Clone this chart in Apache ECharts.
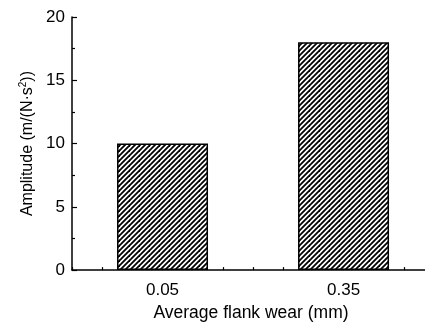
<!DOCTYPE html>
<html><head><meta charset="utf-8">
<script src="https://cdn.jsdelivr.net/npm/echarts@6/dist/echarts.min.js"></script>
<style>html,body{margin:0;padding:0;background:#fff}#c{width:425px;height:327px}</style>
</head><body><div id="c"></div>
<script>
var wear = [0.05, 0.35];
var amplitude = [10, 18];
var xTickLabels = ['0.05', '0.35'];
var yTicks = [0, 5, 10, 15, 20];

function hatch() {
  var s = 10, cv = document.createElement('canvas');
  cv.width = s; cv.height = s;
  var g = cv.getContext('2d');
  g.fillStyle = '#fff'; g.fillRect(0, 0, s, s);
  g.strokeStyle = '#000'; g.lineWidth = 1.8;
  for (var k = -2; k <= 2; k++) {
    var o = k * 5;
    g.beginPath(); g.moveTo(o - 2, s + 2); g.lineTo(o + s + 2, -2); g.stroke();
  }
  return cv;
}

var chart = echarts.init(document.getElementById('c'), null, {renderer: 'canvas'});
var font = 'Liberation Sans, Arial, sans-serif';
chart.setOption({
  animation: false,
  grid: {left: 72, right: 0, top: 17, bottom: 55, containLabel: false},
  xAxis: {
    type: 'value', min: -0.1, max: 0.485, interval: 0.05,
    name: 'Average flank wear (mm)', nameLocation: 'middle', nameGap: 33,
    nameTextStyle: {fontFamily: font, fontSize: 17.5, color: '#000', padding: [0, 0, 0, 5]},
    axisLine: {show: true, onZero: false, lineStyle: {color: '#000', width: 1.5}},
    axisTick: {show: true, inside: true, length: 3, lineStyle: {color: '#000', width: 1.2}},
    axisLabel: {
      fontFamily: font, fontSize: 17, color: '#000', margin: 12, showMaxLabel: false,
      formatter: function (v) {
        for (var i = 0; i < wear.length; i++) if (Math.abs(v - wear[i]) < 1e-6) return xTickLabels[i];
        return '';
      }
    },
    splitLine: {show: false}
  },
  yAxis: {
    type: 'value', min: yTicks[0], max: yTicks[yTicks.length - 1], interval: 5,
    name: '{a|Amplitude (m/(N·s}{s|2}{a|))}', nameLocation: 'middle', nameGap: 35,
    nameTextStyle: {rich: {
      a: {fontFamily: font, fontSize: 16, color: '#000'},
      s: {fontFamily: font, fontSize: 10, color: '#000', verticalAlign: 'top', padding: [0, 0, 8, 0]}
    }},
    axisLine: {show: true, onZero: false, lineStyle: {color: '#000', width: 1.5}},
    axisTick: {show: true, inside: true, length: 5, lineStyle: {color: '#000', width: 1.2}},
    minorTick: {show: true, splitNumber: 2, length: 3, lineStyle: {color: '#000', width: 1.2}},
    axisLabel: {fontFamily: font, fontSize: 17, color: '#000', margin: 7},
    splitLine: {show: false}
  },
  series: [{
    type: 'bar', barWidth: 91,
    data: wear.map(function (w, i) { return [w, amplitude[i]]; }),
    itemStyle: {color: {image: hatch(), repeat: 'repeat'}, borderColor: '#000', borderWidth: 1.5}
  }]
});
</script></body></html>
